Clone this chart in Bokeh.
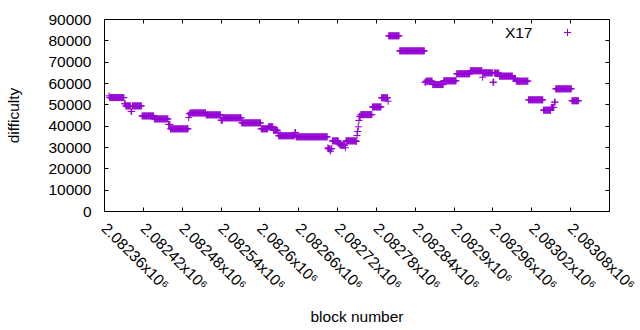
import math
import numpy as np
from bokeh.plotting import figure
from bokeh.models import (FixedTicker, LinearAxis, Range1d, Legend, LegendItem, Label,
                          CustomLabelingPolicy)
from bokeh.embed import file_html
from bokeh.resources import INLINE

# ---- data: runs of constant difficulty (first block, last block, difficulty) ----
run_start = [2082367, 2082368, 2082391, 2082393, 2082401, 2082403, 2082418, 2082437,
             2082459, 2082462, 2082490, 2082491, 2082493, 2082517, 2082540, 2082543,
             2082572, 2082602, 2082613, 2082621, 2082628, 2082629, 2082654, 2082656,
             2082705, 2082706, 2082709, 2082710, 2082712, 2082722, 2082724, 2082732,
             2082733, 2082749, 2082750, 2082751, 2082752, 2082753, 2082754, 2082756,
             2082774, 2082788, 2082798, 2082799, 2082816, 2082855, 2082857, 2082867,
             2082884, 2082904, 2082925, 2082944, 2082945, 2082960, 2082962, 2082970,
             2082991, 2082996, 2083015, 2083038, 2083050, 2083055, 2083057, 2083082]
run_end = [2082367, 2082390, 2082392, 2082400, 2082402, 2082417, 2082436, 2082458,
           2082461, 2082489, 2082490, 2082492, 2082516, 2082539, 2082542, 2082571,
           2082601, 2082612, 2082620, 2082627, 2082628, 2082653, 2082655, 2082704,
           2082705, 2082708, 2082709, 2082711, 2082721, 2082723, 2082731, 2082732,
           2082748, 2082749, 2082750, 2082751, 2082752, 2082753, 2082755, 2082773,
           2082787, 2082797, 2082798, 2082815, 2082854, 2082856, 2082866, 2082883,
           2082903, 2082924, 2082943, 2082944, 2082959, 2082961, 2082969, 2082990,
           2082995, 2083014, 2083037, 2083049, 2083054, 2083056, 2083081, 2083092]
run_difficulty = [54200, 53400, 50500, 49500, 46900, 49500, 44800, 43400,
                  40800, 38750, 44000, 45800, 46200, 45300, 42800, 43900,
                  41550, 38750, 39700, 38100, 37200, 35500, 37000, 35000,
                  29850, 29400, 28300, 29400, 33100, 31700, 31100, 29850,
                  33100, 32800, 35600, 37500, 39700, 42650, 44600, 45400,
                  49000, 53300, 51700, 82350, 75300, 60600, 61100, 59500,
                  61250, 64550, 65950, 62950, 65000, 60600, 64850, 63450,
                  62350, 61100, 52350, 47500, 48750, 51250, 57500, 51900]

x_ticks = [2082360, 2082420, 2082480, 2082540, 2082600, 2082660, 2082720,
           2082780, 2082840, 2082900, 2082960, 2083020, 2083080, 2083140]
x_tick_labels = ["2.08236x10⁶", "2.08242x10⁶", "2.08248x10⁶", "2.08254x10⁶",
                 "2.0826x10⁶", "2.08266x10⁶", "2.08272x10⁶", "2.08278x10⁶",
                 "2.08284x10⁶", "2.0829x10⁶", "2.08296x10⁶", "2.08302x10⁶",
                 "2.08308x10⁶", "2.08314x10⁶"]
y_ticks = [0, 10000, 20000, 30000, 40000, 50000, 60000, 70000, 80000, 90000]
series_name = "X17"

blocks = np.concatenate([np.arange(s, e + 1) for s, e in zip(run_start, run_end)])
difficulty = np.concatenate([np.full(e - s + 1, v) for s, e, v in zip(run_start, run_end, run_difficulty)])

COLOR = "#9400d3"
FONT = "Liberation Sans"
FS = "15.5px"
XSTAND = 14
FRAME_W, FRAME_H = 505, 192

p = figure(width=640, height=330, output_backend="svg", toolbar_location=None,
           x_range=Range1d(x_ticks[0], x_ticks[-1]), y_range=Range1d(y_ticks[0], y_ticks[-1]),
           x_axis_type=None, y_axis_type=None,
           min_border_left=104, min_border_right=31, min_border_top=19, min_border_bottom=119)
p.outline_line_color = "black"
p.outline_line_alpha = 1.0
p.xgrid.visible = False
p.ygrid.visible = False
p.background_fill_color = "white"
p.border_fill_color = "white"

r = p.scatter(blocks, difficulty, marker="cross", size=7, line_color=COLOR, line_width=1)

no_labels = CustomLabelingPolicy(
    code="try { for (const i of indices) { indices.unset(i) } } catch (e) {} return indices")

def style(ax, labels=True):
    ax.axis_line_color = "black"
    ax.major_tick_line_color = "black"
    ax.major_tick_in = 4
    ax.major_tick_out = 0
    ax.minor_tick_in = 0
    ax.minor_tick_out = 0
    ax.minor_tick_line_color = None
    ax.major_label_text_font = FONT
    ax.major_label_text_font_size = FS if labels else "0px"
    ax.major_label_text_color = "black"
    ax.axis_label_text_font = FONT
    ax.axis_label_text_font_size = FS
    ax.axis_label_text_font_style = "normal"
    ax.axis_label_text_color = "black"
    if not labels:
        ax.major_label_policy = no_labels
        ax.major_label_standoff = 0

# bottom axis: all ticks but the last, whose label runs off the page (drawn separately)
xb = LinearAxis(ticker=FixedTicker(ticks=x_ticks[:-1]), axis_label="block number")
xb.major_label_overrides = dict(zip(x_ticks[:-1], x_tick_labels[:-1]))
style(xb)
xb.major_label_orientation = -math.pi / 4
xb.major_label_standoff = XSTAND
xb.axis_label_standoff = 6
p.add_layout(xb, "below")

p.add_layout(Label(x=FRAME_W, y=-XSTAND, x_units="screen", y_units="screen",
                   text=x_tick_labels[-1], angle=-math.pi / 4,
                   text_align="left", text_baseline="middle",
                   text_font=FONT, text_font_size=FS, text_color="black"))

yl = LinearAxis(ticker=FixedTicker(ticks=y_ticks), axis_label="difficulty")
style(yl)
yl.major_label_standoff = 13
yl.axis_label_standoff = 23
p.add_layout(yl, "left")

xt = LinearAxis(ticker=FixedTicker(ticks=x_ticks))
style(xt, labels=False)
p.add_layout(xt, "above")

yr = LinearAxis(ticker=FixedTicker(ticks=y_ticks))
style(yr, labels=False)
p.add_layout(yr, "right")

# key: text then sample, gnuplot style
p.add_layout(Label(x=2083021, y=83750, text=series_name, text_font=FONT, text_font_size=FS,
                   text_align="right", text_baseline="middle", text_color="black"))
leg = Legend(items=[LegendItem(label=" ", renderers=[r])], location=(454, 170),
             padding=0, margin=0, spacing=0, glyph_width=18, glyph_height=18,
             label_width=0, label_standoff=0, label_text_font_size="1px",
             border_line_color=None, background_fill_alpha=0)
p.add_layout(leg, "center")

open("out.html", "w").write(file_html(p, INLINE))
